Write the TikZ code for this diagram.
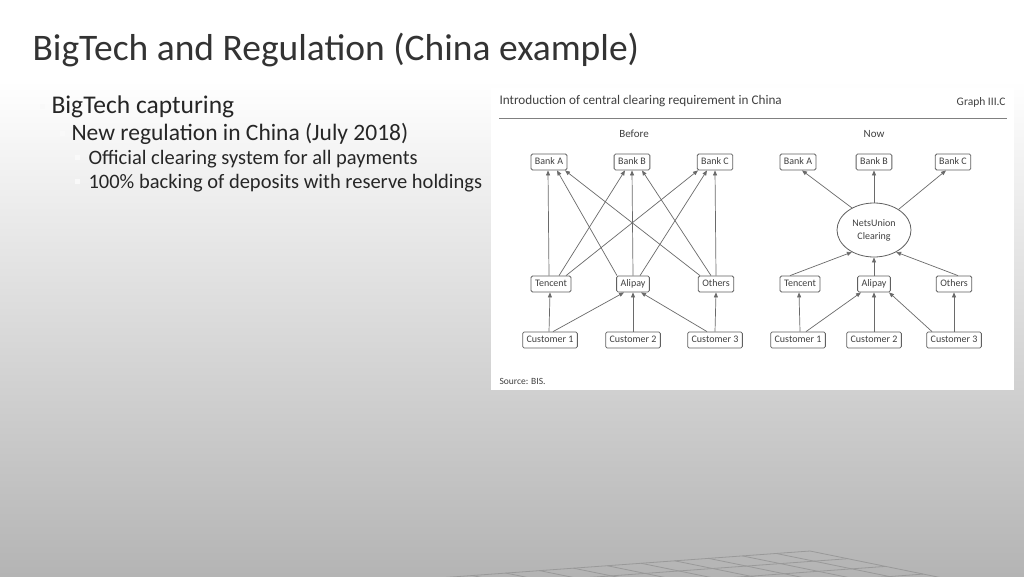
\documentclass[tikz,border=0pt]{standalone}
\usepackage{fontspec}
\setmainfont{Carlito}
\usetikzlibrary{arrows.meta,shapes.geometric}

\definecolor{slidegray}{HTML}{B4B4B4}
\definecolor{boxgray}{HTML}{606060}
\definecolor{linegray}{HTML}{6A6A6A}
\definecolor{gridgray}{HTML}{999999}

\tikzset{
  bankbox/.style={draw=boxgray, rounded corners=1.5pt, line width=0.8pt, fill=white,
    inner xsep=4pt, inner ysep=3.5pt, text height=7pt, text depth=2pt,
    font=\fontsize{10}{11}\selectfont, text=black!75},
  hub/.style={draw=boxgray, ellipse, line width=0.8pt, fill=white, minimum width=74pt,
    minimum height=54pt, align=center, font=\fontsize{10}{13}\selectfont, text=black!75},
  flow/.style={draw=linegray, line width=0.7pt, -{Triangle[length=5pt,width=4pt]}},
  bulletmark/.style={fill=white!95!gray, minimum size=5pt, inner sep=0pt}
}

\begin{document}
\begin{tikzpicture}[x=1pt,y=-1pt]

    % slide background
    \shade[top color=white, bottom color=slidegray] (0,80) rectangle (1024,576);
    \fill[white] (0,0) rectangle (1024,80);
    \useasboundingbox (0,0) rectangle (1024,576);

    % floor grid
    \begin{scope}
      \clip (0,0) rectangle (1024,576);
      \foreach \i in {0,...,11}
        \draw[gridgray, line width=0.8pt] (810-33.8*\i,551+2.45*\i) -- ++(226,46);
      \foreach \j in {0,...,6}
        \draw[gridgray, line width=0.8pt] (810+37.7*\j,551+7.7*\j) -- ++(-372,27);
    \end{scope}

    % title and bullets
    \node[anchor=west, font=\fontsize{37.5}{40}\selectfont, text=black!80] (title) at (29,50) {BigTech and Regulation (China example)};
    \node[bulletmark] (b1) at (42,106) {};
    \node[anchor=west, font=\fontsize{25.5}{28}\selectfont, text=black!85] (l1) at (48,107) {BigTech capturing};
    \node[bulletmark] (b2) at (62,133) {};
    \node[anchor=west, font=\fontsize{23.5}{26}\selectfont, text=black!85] (l2) at (68,134) {New regulation in China (July 2018)};
    \node[bulletmark] (b3) at (77,157) {};
    \node[anchor=west, font=\fontsize{20.5}{22}\selectfont, text=black!85] (l3) at (85,159) {Official clearing system for all payments};
    \node[bulletmark] (b4) at (77,181) {};
    \node[anchor=west, font=\fontsize{20.5}{22}\selectfont, text=black!85] (l4) at (85,183) {100\% backing of deposits with reserve holdings};

    % chart panel
    \fill[white] (491,88) rectangle (1014,390);
    \node[anchor=west, font=\fontsize{13.2}{15}\selectfont, text=black!75] (chart) at (496,101) {Introduction of central clearing requirement in China};
    \node[anchor=east, font=\fontsize{11.5}{13}\selectfont, text=black!75] (graph) at (1009,102) {Graph III.C};
    \draw[gray, line width=1pt] (499,118) -- (1007,118);
    \node[font=\fontsize{11}{13}\selectfont, text=black!75] (before) at (634,134) {Before};
    \node[font=\fontsize{11}{13}\selectfont, text=black!75] (now) at (874,134) {Now};
    \node[anchor=west, font=\fontsize{9.5}{11}\selectfont, text=black!75] (source) at (496,381) {Source: BIS.};

    % before
    \node[bankbox] (ba) at (549,162) {Bank A};
    \node[bankbox] (bb) at (632,162) {Bank B};
    \node[bankbox] (bc) at (715,162) {Bank C};
    \node[bankbox] (bt) at (551,284) {Tencent};
    \node[bankbox] (bp) at (633,284) {Alipay};
    \node[bankbox] (bo) at (716,284) {Others};
    \node[bankbox] (bc1) at (550,340) {Customer 1};
    \node[bankbox] (bc2) at (633,340) {Customer 2};
    \node[bankbox] (bc3) at (715,340) {Customer 3};

    \draw[flow] ([xshift=-2pt]bt.north) -- ([xshift=-1pt]ba.south);
    \draw[flow] ([xshift=8pt]bt.north) -- ([xshift=-7pt]bb.south);
    \draw[flow] ([xshift=15pt]bt.north) -- ([xshift=-17pt]bc.south);
    \draw[flow] ([xshift=-16pt]bp.north) -- ([xshift=8pt]ba.south);
    \draw[flow] (bp.north) -- (bb.south);
    \draw[flow] ([xshift=7pt]bp.north) -- ([xshift=-8pt]bc.south);
    \draw[flow] ([xshift=-16pt]bo.north) -- ([xshift=16pt]ba.south);
    \draw[flow] ([xshift=-5pt]bo.north) -- ([xshift=10pt]bb.south);
    \draw[flow] (bo.north) -- (bc.south);

    \draw[flow] ([xshift=-1pt]bc1.north) -- ([xshift=-1pt]bt.south);
    \draw[flow] ([xshift=3pt]bc1.north) -- ([xshift=-9pt]bp.south);
    \draw[flow] (bc2.north) -- (bp.south);
    \draw[flow] ([xshift=-8pt]bc3.north) -- ([xshift=8pt]bp.south);
    \draw[flow] (bc3.north) -- (bo.south);

    % now
    \node[bankbox] (na) at (798,162) {Bank A};
    \node[bankbox] (nb) at (874,162) {Bank B};
    \node[bankbox] (nc) at (953,162) {Bank C};
    \node[hub] (nu) at (874,230) {NetsUnion\\Clearing};
    \node[bankbox] (nt) at (800,284) {Tencent};
    \node[bankbox] (np) at (874,284) {Alipay};
    \node[bankbox] (no) at (954,284) {Others};
    \node[bankbox] (nc1) at (798,340) {Customer 1};
    \node[bankbox] (nc2) at (874,340) {Customer 2};
    \node[bankbox] (nc3) at (954,340) {Customer 3};

    \draw[flow] (nu.135) -- ([xshift=4pt]na.south);
    \draw[flow] (nu.north) -- (nb.south);
    \draw[flow] (nu.40) -- ([xshift=-7pt]nc.south);
    \draw[flow] ([xshift=-10pt]nt.north) -- (nu.225);
    \draw[flow] (np.north) -- (nu.south);
    \draw[flow] ([xshift=4pt]no.north) -- (nu.315);

    \draw[flow] ([xshift=2pt]nc1.north) -- ([xshift=-1pt]nt.south);
    \draw[flow] ([xshift=8pt]nc1.north) -- ([xshift=-13pt]np.south);
    \draw[flow] (nc2.north) -- (np.south);
    \draw[flow] ([xshift=-22pt]nc3.north) -- ([xshift=15pt]np.south);
    \draw[flow] (nc3.north) -- (no.south);

\end{tikzpicture}
\end{document}
